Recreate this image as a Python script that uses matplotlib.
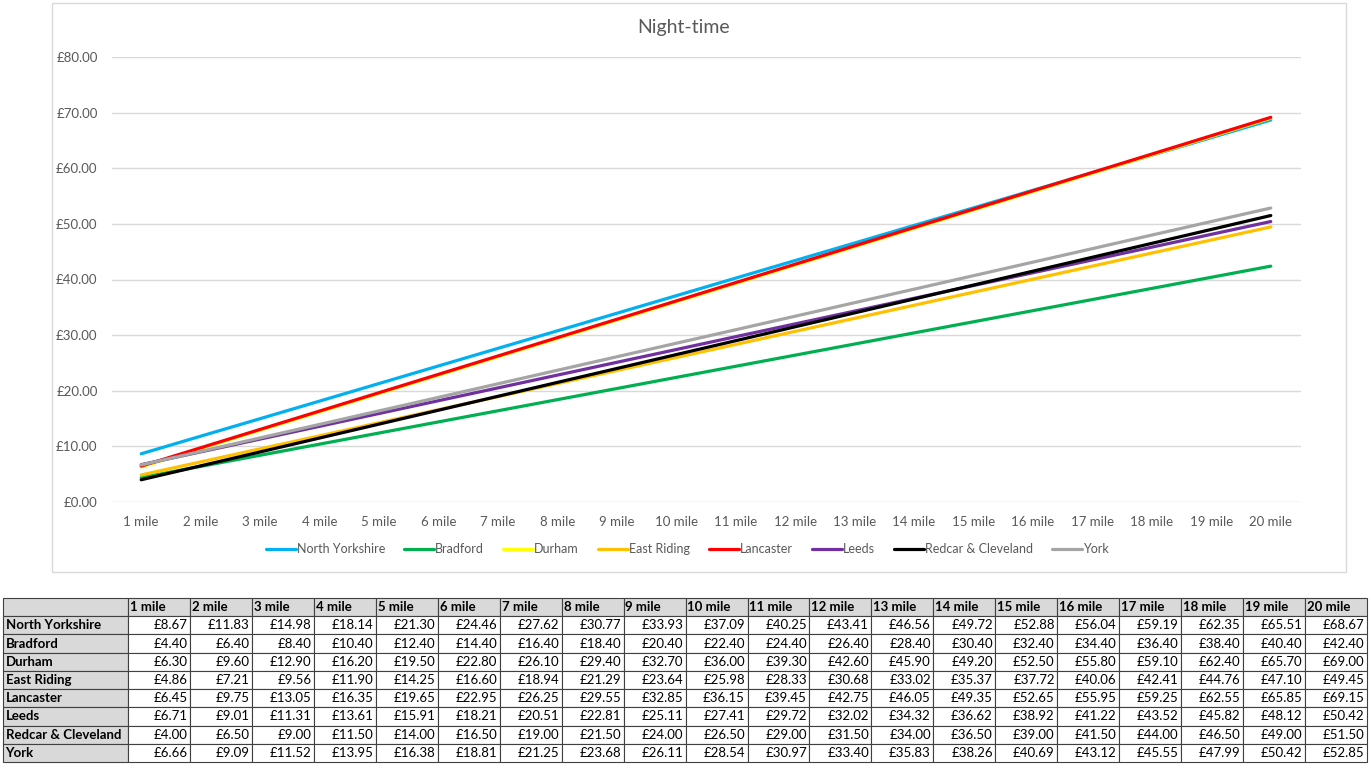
import numpy as np
import matplotlib.pyplot as plt
from matplotlib.patches import Rectangle

plt.rcParams['font.family'] = ['Lato', 'DejaVu Sans']

miles = [f"{i} mile" for i in range(1, 21)]

north_yorkshire = [8.67, 11.83, 14.98, 18.14, 21.30, 24.46, 27.62, 30.77, 33.93, 37.09,
                   40.25, 43.41, 46.56, 49.72, 52.88, 56.04, 59.19, 62.35, 65.51, 68.67]
bradford = [4.40, 6.40, 8.40, 10.40, 12.40, 14.40, 16.40, 18.40, 20.40, 22.40,
            24.40, 26.40, 28.40, 30.40, 32.40, 34.40, 36.40, 38.40, 40.40, 42.40]
durham = [6.30, 9.60, 12.90, 16.20, 19.50, 22.80, 26.10, 29.40, 32.70, 36.00,
          39.30, 42.60, 45.90, 49.20, 52.50, 55.80, 59.10, 62.40, 65.70, 69.00]
east_riding = [4.86, 7.21, 9.56, 11.90, 14.25, 16.60, 18.94, 21.29, 23.64, 25.98,
               28.33, 30.68, 33.02, 35.37, 37.72, 40.06, 42.41, 44.76, 47.10, 49.45]
lancaster = [6.45, 9.75, 13.05, 16.35, 19.65, 22.95, 26.25, 29.55, 32.85, 36.15,
             39.45, 42.75, 46.05, 49.35, 52.65, 55.95, 59.25, 62.55, 65.85, 69.15]
leeds = [6.71, 9.01, 11.31, 13.61, 15.91, 18.21, 20.51, 22.81, 25.11, 27.41,
         29.72, 32.02, 34.32, 36.62, 38.92, 41.22, 43.52, 45.82, 48.12, 50.42]
redcar = [4.00, 6.50, 9.00, 11.50, 14.00, 16.50, 19.00, 21.50, 24.00, 26.50,
          29.00, 31.50, 34.00, 36.50, 39.00, 41.50, 44.00, 46.50, 49.00, 51.50]
york = [6.66, 9.09, 11.52, 13.95, 16.38, 18.81, 21.25, 23.68, 26.11, 28.54,
        30.97, 33.40, 35.83, 38.26, 40.69, 43.12, 45.55, 47.99, 50.42, 52.85]

series_names = ["North Yorkshire", "Bradford", "Durham", "East Riding",
                "Lancaster", "Leeds", "Redcar & Cleveland", "York"]
series_values = [north_yorkshire, bradford, durham, east_riding,
                 lancaster, leeds, redcar, york]
colors = ["#00b0f0", "#00b050", "#ffff00", "#ffc000",
          "#ff0000", "#7030a0", "#000000", "#a5a5a5"]

fig = plt.figure(figsize=(13.71, 7.72), dpi=100)

# chart area border
fig.patches.append(Rectangle((52 / 1371, 1 - 572 / 772), 1294 / 1371, 569 / 772,
                             transform=fig.transFigure, fill=False,
                             edgecolor="#d9d9d9", lw=1))

ax = fig.add_axes([111.5 / 1371, 1 - 502 / 772, 1189 / 1371, 445 / 772])
x = np.arange(1, 21)
for nome, vals, cor in zip(series_names, series_values, colors):
    ax.plot(x, vals, color=cor, lw=2.3, label=nome, solid_capstyle="round")

ax.set_xlim(0.5, 20.5)
ax.set_ylim(0, 80)
ax.set_yticks(np.arange(0, 81, 10))
ax.set_yticklabels([f"£{v:.2f}" for v in np.arange(0, 81, 10)])
ax.set_xticks(x)
ax.set_xticklabels(miles)
ax.tick_params(length=0, labelsize=9.5, colors="#595959", pad=10)
ax.tick_params(axis="y", pad=10)
ax.grid(axis="y", color="#d9d9d9", lw=1)
ax.set_axisbelow(True)
for s in ax.spines.values():
    s.set_visible(False)
fig.text(684 / 1371, 1 - 27 / 772, "Night-time", ha="center", va="center",
         fontsize=14, color="#595959")

fig.legend(loc="center", bbox_to_anchor=(687 / 1371, 1 - 549 / 772), ncol=8,
           frameon=False, fontsize=9, handlelength=2.4, handletextpad=0.1,
           columnspacing=1.5, labelcolor="#595959")

# tabela
tax = fig.add_axes([3 / 1371, 10 / 772, 1364 / 1371, 164 / 772])
tax.axis("off")
linhas = [[""] + miles]
for nome, vals in zip(series_names, series_values):
    linhas.append([nome] + [f"£{v:.2f}" for v in vals])
largura_primeira = 125 / 1364
largura = (1 - largura_primeira) / 20
tab = tax.table(cellText=linhas, cellLoc="right",
                colWidths=[largura_primeira] + [largura] * 20,
                bbox=[0, 0, 1, 1])
tab.auto_set_font_size(False)
for (r, c), cell in tab.get_celld().items():
    cell.set_edgecolor("#404040")
    cell.set_linewidth(0.8)
    cell.get_text().set_fontsize(9.5)
    cell.PAD = 0.04
    if r == 0 or c == 0:
        # cabeçalho e nomes em negrito com fundo cinza
        cell.get_text().set_fontweight("bold")
        cell._loc = "left"
        cell.get_text().set_ha("left")
        cell.PAD = 0.03 if c > 0 else 0.02
        cell.set_facecolor("#d9d9d9")

fig.savefig("out.png", dpi=100)
